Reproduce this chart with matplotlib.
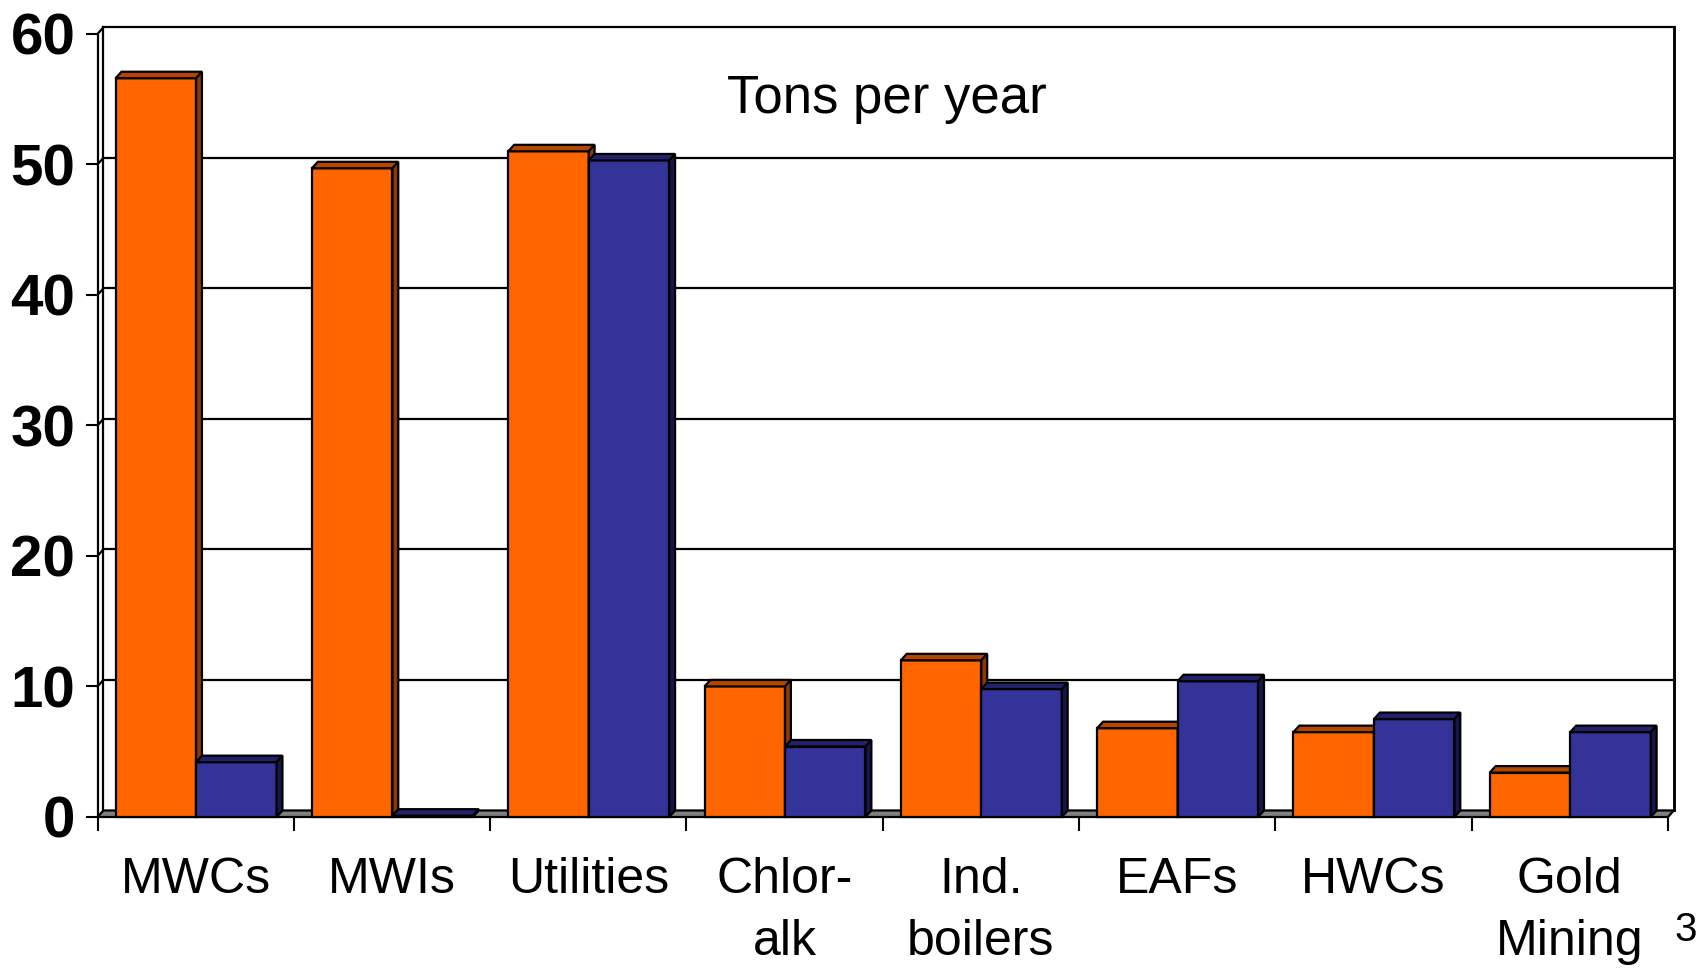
import matplotlib
matplotlib.use('Agg')
import matplotlib.pyplot as plt
from matplotlib.patches import Polygon

plt.rcParams['font.family'] = ['Liberation Sans', 'DejaVu Sans']

categories = ['MWCs', 'MWIs', 'Utilities', 'Chlor-\nalk', 'Ind.\nboilers', 'EAFs', 'HWCs', 'Gold\nMining']
series_1 = [56.6, 49.7, 51.0, 10.0, 12.0, 6.8, 6.5, 3.4]
series_2 = [4.2, 0.1, 50.3, 5.4, 9.8, 10.4, 7.5, 6.5]
y_ticks = [0, 10, 20, 30, 40, 50, 60]

orange = ['#FF6600', '#B34700', '#8C3800']
blue = ['#333399', '#22226B', '#16164A']

# depth offsets of the fake 3d box (data units)
dx, dy = 0.03, 0.5
bw = 0.41
lw = 1.6

fig = plt.figure(figsize=(17.05, 9.68), dpi=100)
ax = fig.add_axes([0.0572, 0.156, 0.9211, 0.809])
n = len(categories)
ax.set_xlim(0, n)
ax.set_ylim(0, 60)


def poly(pts, fc, z):
    ax.add_patch(Polygon(pts, closed=True, facecolor=fc, edgecolor='black',
                         linewidth=lw, joinstyle='miter', clip_on=False, zorder=z))


# back wall, gridlines and left wall
for v in y_ticks[1:]:
    ax.plot([dx, n + dx], [v + dy, v + dy], color='black', lw=lw, clip_on=False, zorder=1)
    ax.plot([0, dx], [v, v + dy], color='black', lw=lw, clip_on=False, zorder=1)
ax.plot([n + dx, n + dx], [dy, 60 + dy], color='black', lw=lw * 1.3, clip_on=False, zorder=1)
ax.plot([dx, dx], [dy, 60 + dy], color='black', lw=lw, clip_on=False, zorder=1)
ax.plot([0, 0], [0, 60], color='black', lw=lw, clip_on=False, zorder=1)

# floor
poly([(0, 0), (n, 0), (n + dx, dy), (dx, dy)], '#808080', 2)

# bars
for i in range(n):
    for j, (vals, cols) in enumerate([(series_1, orange), (series_2, blue)]):
        x0 = i + 0.092 + j * bw
        v = vals[i]
        poly([(x0, 0), (x0 + bw, 0), (x0 + bw, v), (x0, v)], cols[0], 3)
        poly([(x0, v), (x0 + dx, v + dy), (x0 + bw + dx, v + dy), (x0 + bw, v)], cols[1], 3)
        poly([(x0 + bw, 0), (x0 + bw + dx, dy), (x0 + bw + dx, v + dy), (x0 + bw, v)], cols[2], 3)

for s in ax.spines.values():
    s.set_visible(False)

ax.set_yticks(y_ticks)
ax.set_yticklabels([str(t) for t in y_ticks], fontsize=42, fontweight='bold')
ax.tick_params(axis='y', length=9, width=1.5, pad=7)

ax.set_xticks(range(n + 1))
ax.set_xticklabels([''] * (n + 1))
ax.tick_params(axis='x', which='major', length=10, width=1.5, direction='out')
ax.set_xticks([i + 0.5 for i in range(n)], minor=True)
ax.set_xticklabels(categories, minor=True, fontsize=36, linespacing=1.45)
ax.tick_params(axis='x', which='minor', length=0, pad=29)

fig.text(0.5203, 1 - 113 / 968, 'Tons per year', fontsize=38, ha='center', va='baseline')
fig.text(1686 / 1705, 1 - 930 / 968, '3', fontsize=29, ha='center', va='center')

fig.savefig('out.png', dpi=100)
